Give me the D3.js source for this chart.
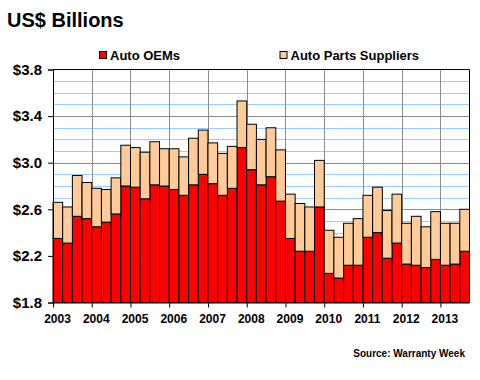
<!DOCTYPE html>
<html>
<head>
<meta charset="utf-8">
<script src="https://cdn.jsdelivr.net/npm/d3@7/dist/d3.min.js"></script>
<style>
  html, body { margin: 0; padding: 0; background: #fff; }
  svg { display: block; font-family: "Liberation Sans", Arial, sans-serif; }
</style>
</head>
<body>
<svg id="chart" width="480" height="380"></svg>
<script>
// Quarterly data, 2003 Q1 .. 2013 Q3 (US$ billions)
const years = ["2003","2004","2005","2006","2007","2008","2009","2010","2011","2012","2013"];
const quarters = ["Q1","Q2","Q3","Q4"];
const autoOEMs = [2.35, 2.31, 2.54, 2.52, 2.45, 2.49, 2.56, 2.80, 2.79, 2.69, 2.81, 2.80,
                  2.77, 2.72, 2.81, 2.90, 2.82, 2.72, 2.78, 3.13, 2.94, 2.81, 2.88, 2.67,
                  2.35, 2.24, 2.24, 2.62, 2.05, 2.01, 2.12, 2.12, 2.36, 2.40, 2.18, 2.31,
                  2.13, 2.12, 2.10, 2.17, 2.12, 2.13, 2.24];
const autoPartsSuppliers = [0.31, 0.31, 0.35, 0.31, 0.33, 0.28, 0.31, 0.35, 0.34, 0.40, 0.37, 0.32,
                  0.35, 0.33, 0.40, 0.38, 0.35, 0.36, 0.36, 0.40, 0.39, 0.39, 0.42, 0.44,
                  0.38, 0.41, 0.38, 0.40, 0.37, 0.35, 0.36, 0.40, 0.36, 0.39, 0.41, 0.42,
                  0.35, 0.42, 0.35, 0.41, 0.36, 0.35, 0.36];
const yTickValues = [1.8, 2.2, 2.6, 3.0, 3.4, 3.8];
const seriesNames = ["Auto OEMs", "Auto Parts Suppliers"];
const seriesColors = ["#FF0000", "#FFCC99"];

const periods = [];
years.forEach(y => quarters.forEach(q => periods.push(y + " " + q)));
const data = autoOEMs.map((v, i) => ({ period: periods[i], oem: v, sup: autoPartsSuppliers[i] }));

const svg = d3.select("#chart");
const L = 53, R = 469.5, T = 69.5, B = 302.5;

const x = d3.scaleBand().domain(data.map(d => d.period)).range([L, R]).padding(0);
const y = d3.scaleLinear().domain([1.8, 3.8]).range([B, T]);

// minor gridlines (every 0.1)
const minor = d3.range(1.9, 3.8, 0.1).map(v => +v.toFixed(1)).filter(v => Math.abs((v - 1.8) / 0.4 - Math.round((v - 1.8) / 0.4)) > 1e-6);
svg.append("g").selectAll("line").data(minor).join("line")
  .attr("x1", L).attr("x2", R)
  .attr("y1", d => Math.round(y(d)) + 0.5).attr("y2", d => Math.round(y(d)) + 0.5)
  .attr("stroke", "#99CCFF").attr("stroke-width", 1);
// major gridlines
svg.append("g").selectAll("line").data(yTickValues.slice(1, -1)).join("line")
  .attr("x1", L).attr("x2", R)
  .attr("y1", d => Math.round(y(d)) + 0.5).attr("y2", d => Math.round(y(d)) + 0.5)
  .attr("stroke", "#8C8C8C").attr("stroke-width", 1);
// vertical year gridlines
const yearStarts = years.slice(1).map(yr => yr + " Q1");
svg.append("g").selectAll("line").data(yearStarts).join("line")
  .attr("x1", d => Math.round(x(d)) + 0.5).attr("x2", d => Math.round(x(d)) + 0.5)
  .attr("y1", T).attr("y2", B)
  .attr("stroke", "#8C8C8C").attr("stroke-width", 1);

// stacked bars
const stack = d3.stack().keys(["oem", "sup"]);
const stacked = stack(data);
const clampY = v => y(Math.max(v, 1.8));
stacked.forEach((layer, li) => {
  svg.append("g").selectAll("rect").data(layer).join("rect")
    .attr("x", d => x(d.data.period))
    .attr("width", x.bandwidth())
    .attr("y", d => clampY(d[1]))
    .attr("height", d => clampY(d[0]) - clampY(d[1]))
    .attr("fill", seriesColors[li])
    .attr("stroke", "#000").attr("stroke-width", 1);
});

// frame top & right
svg.append("line").attr("x1", L).attr("x2", R).attr("y1", T).attr("y2", T).attr("stroke", "#000");
svg.append("line").attr("x1", R).attr("x2", R).attr("y1", T).attr("y2", B).attr("stroke", "#000");

// y axis
const yAxis = d3.axisLeft(y).tickValues(yTickValues).tickSize(5).tickPadding(6)
  .tickFormat(d => "$" + d3.format(".1f")(d));
const gy = svg.append("g").attr("transform", `translate(${L},0)`).call(yAxis);
gy.select(".domain").attr("stroke", "#000");
gy.selectAll(".tick line").attr("stroke", "#000");
gy.selectAll("text").attr("font-size", "15px").attr("font-weight", "bold").attr("fill", "#000")
  .attr("font-family", "'Liberation Sans', Arial, sans-serif");

// x axis (year ticks)
const xYear = d3.scalePoint().domain(years).range([x(years[0] + " Q1"), x(years[years.length - 1] + " Q1")]);
const xAxis = d3.axisBottom(xYear).tickSize(5).tickPadding(7);
const gx = svg.append("g").attr("transform", `translate(0,${B})`).call(xAxis);
gx.select(".domain").attr("d", `M${L},0.5H${R}`).attr("stroke", "#000");
gx.selectAll(".tick line").attr("stroke", "#000");
gx.selectAll("text").attr("font-size", "12px").attr("font-weight", "bold").attr("fill", "#000")
  .attr("dx", "4").attr("font-family", "'Liberation Sans', Arial, sans-serif");

// title
svg.append("text").attr("x", 7).attr("y", 27).text("US$ Billions")
  .attr("font-size", "20px").attr("font-weight", "bold").attr("fill", "#000");

// legend
const legendPos = [99, 279.5];
seriesNames.forEach((name, i) => {
  const g = svg.append("g").attr("transform", `translate(${legendPos[i]},51)`);
  g.append("rect").attr("x", 0.5).attr("y", 0.5).attr("width", 7).attr("height", 7)
    .attr("fill", seriesColors[i]).attr("stroke", "#000").attr("stroke-width", 1);
  g.append("text").attr("x", 11).attr("y", 9).text(name)
    .attr("font-size", "13px").attr("font-weight", "bold").attr("fill", "#000");
});

// source
svg.append("text").attr("x", 465).attr("y", 357).attr("text-anchor", "end")
  .text("Source: Warranty Week").attr("font-size", "10px").attr("font-weight", "bold").attr("fill", "#000");
</script>
</body>
</html>
